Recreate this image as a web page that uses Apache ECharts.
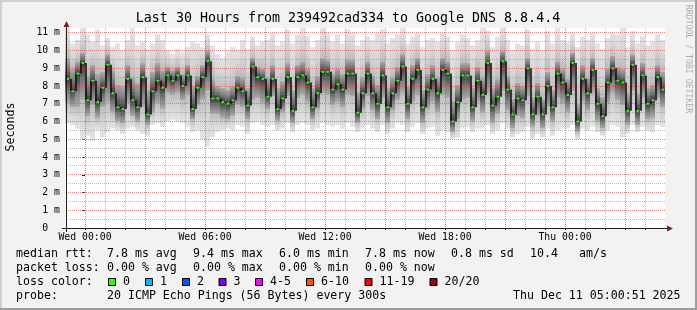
<!DOCTYPE html>
<html><head><meta charset="utf-8">
<script src="https://cdn.jsdelivr.net/npm/echarts@6/dist/echarts.min.js"></script>
<style>html,body{margin:0;padding:0;background:#f2f2f2}#c{width:697px;height:310px}</style>
</head><body><div id="c"></div><script>
// ---- data (hours relative to Wed 00:00; one slot = 15 min) ----
const startHour = -1, endHour = 29, slotHours = 0.25;
const medianMs = [
 8.4,7.7,8.7,9.3,7.2,8.3,7.1,7.9,9.2,7.6,6.8,6.7,8.4,7.2,6.8,8.5,6.4,7.7,8.3,7.9,
 8.6,8.3,8.6,8.0,8.6,6.7,7.9,8.5,9.4,7.3,7.3,7.1,7.0,7.2,7.9,7.7,6.9,9.1,8.5,8.4,
 7.4,8.4,6.7,7.3,8.5,6.6,8.5,8.6,8.2,6.8,7.6,8.8,8.8,7.8,8.1,7.8,8.7,8.7,6.5,7.6,
 8.7,7.6,7.0,8.6,6.8,7.6,8.3,9.1,7.0,8.4,8.9,6.8,7.8,8.4,7.6,8.9,8.7,6.0,7.1,8.6,
 8.6,6.8,8.3,7.5,9.3,6.9,7.4,9.4,7.8,6.4,7.3,7.2,9.0,6.4,7.4,6.4,8.0,6.8,8.7,8.2,
 7.5,9.3,6.0,8.4,7.6,8.9,7.0,6.3,8.2,9.0,8.3,8.2,6.6,9.2,6.6,8.6,7.0,7.2,8.5,7.8];
const lowMs = [
 5.9,5.8,5.6,5.0,5.2,4.9,5.5,5.1,5.4,5.6,5.5,5.3,5.6,5.7,5.5,5.3,5.2,5.8,5.9,5.7,
 6.0,6.1,6.0,5.9,5.7,5.4,5.5,5.0,4.6,5.1,5.4,5.5,5.6,5.5,5.8,5.7,5.3,5.9,6.0,5.8,
 5.7,5.8,5.5,5.6,5.9,5.4,5.8,5.9,5.8,5.5,5.6,5.9,5.8,5.7,5.8,5.6,5.9,5.7,5.4,5.6,
 5.8,5.6,5.4,5.8,5.3,5.6,5.9,5.8,5.4,5.7,5.9,5.3,5.6,5.7,5.2,5.5,5.4,5.0,5.1,5.6,
 5.7,5.4,5.6,5.6,5.8,5.3,5.5,5.9,5.6,5.1,5.3,5.4,5.7,5.0,5.3,5.1,5.6,5.2,5.5,5.6,
 5.6,5.8,5.0,5.6,5.5,5.7,5.4,5.2,5.5,5.8,5.7,5.1,5.3,5.8,5.4,5.7,5.5,5.4,5.8,5.7];
const q1Ms = [
 7.0,6.8,6.8,7.2,6.3,6.9,6.2,6.8,7.1,6.5,6.0,5.9,7.0,6.3,6.0,6.8,5.8,6.5,7.0,6.7,
 7.6,7.5,7.6,7.2,7.5,6.1,6.9,7.2,7.7,6.4,6.4,6.2,6.1,6.3,6.9,6.8,6.1,7.2,7.3,7.0,
 6.7,7.4,6.0,6.5,7.4,5.9,7.3,7.5,7.1,6.1,6.7,7.6,7.5,6.9,7.1,6.8,7.5,7.4,5.9,6.7,
 7.4,6.6,6.1,7.3,5.9,6.6,7.2,7.6,6.1,7.1,7.5,5.9,6.7,7.1,6.5,7.5,7.3,5.4,6.1,7.2,
 7.3,6.0,7.1,6.5,7.6,5.9,6.4,7.7,6.6,5.6,6.3,6.2,7.4,5.7,6.3,5.6,6.8,6.0,7.3,7.0,
 6.5,7.7,5.4,7.1,6.6,7.6,6.0,5.6,7.0,7.6,7.2,6.9,5.8,7.7,5.8,7.3,6.1,6.2,7.3,6.8];
const q3Ms = [
 9.6,9.0,9.4,9.9,8.6,9.2,8.7,8.8,9.8,8.9,8.1,8.0,9.2,8.5,8.2,9.3,7.8,8.8,9.3,8.9,
 9.1,8.9,9.1,8.7,9.2,8.0,8.6,9.2,10.0,8.4,8.0,7.9,7.8,8.0,8.6,8.5,7.9,9.6,9.1,9.0,
 8.5,9.2,7.9,8.3,9.3,7.8,9.2,9.4,9.0,7.9,8.6,9.6,9.5,8.7,9.0,8.7,9.5,9.5,7.7,8.5,
 9.4,8.6,8.1,9.4,7.9,8.5,9.1,9.8,8.0,9.2,9.6,7.8,8.7,9.2,8.5,9.6,9.4,7.2,8.1,9.3,
 9.3,7.9,9.1,8.5,10.0,7.9,8.4,10.0,8.6,7.3,8.2,8.0,9.6,7.4,8.2,7.3,8.8,7.8,9.4,9.0,
 8.4,9.9,7.0,9.2,8.5,9.6,7.9,7.4,9.0,9.7,9.1,9.0,7.6,9.8,7.6,9.3,7.9,8.1,9.2,8.8];
const highMs = [
 11.3,10.4,10.6,11.3,10.9,10.5,11.2,10.3,10.7,10.2,10.4,10.0,10.6,11.3,10.3,10.5,10.1,10.4,10.9,10.6,
 10.0,9.8,10.1,9.9,10.2,10.5,10.4,10.2,10.9,10.3,9.8,9.6,9.9,10.2,10.0,10.6,10.1,10.8,10.3,10.5,
 10.6,11.0,10.3,10.5,11.2,10.4,10.9,11.3,10.8,10.2,10.6,11.3,11.0,10.5,10.9,10.4,11.2,11.0,10.3,10.6,
 10.8,10.6,11.0,11.2,10.4,10.7,10.9,11.3,10.4,10.8,11.0,10.2,10.6,10.7,10.5,11.0,10.8,10.0,10.5,10.9,
 10.7,10.3,10.6,11.3,11.1,10.2,10.8,11.3,10.6,10.0,10.4,10.3,11.2,10.1,10.5,10.0,11.1,10.4,11.3,10.6,
 10.5,11.0,10.2,10.8,10.6,11.0,10.4,10.1,10.7,11.0,10.9,11.3,10.2,11.1,10.4,10.8,10.3,10.5,10.9,10.6];
const yMajorTicks = [1,2,3,4,5,6,7,8,9,10,11];
const yMinorTicks = [0.5,1.5,2.5,3.5,4.5,5.5,6.5,7.5,8.5,9.5,10.5];
const xMajorTicks = [0,3,6,9,12,15,18,21,24,27];
const xMinorTicks = [1,2,4,5,7,8,10,11,13,14,16,17,19,20,22,23,25,26,28];
const xLabelHours = [0,6,12,18,24];
const lossLabels = ['0','1','2','3','4-5','6-10','11-19','20/20'];
const lossColors = ['#26ff00','#00b8ff','#0059ff','#7e00ff','#ff00ff','#ff5500','#ff0000','#a10000'];
const lossBoxX = [108.5,145.5,182.5,219,255.5,306.5,365,430];
const legendLines = [
 [[16,'median rtt:'],[107,'7.8 ms avg'],[193,'9.4 ms max'],[279,'6.0 ms min'],[365,'7.8 ms now'],[451,'0.8 ms sd'],[530,'10.4'],[579,'am/s']],
 [[16,'packet loss:'],[107,'0.00 % avg'],[193,'0.00 % max'],[279,'0.00 % min'],[365,'0.00 % now']],
 [[16,'loss color:']],
 [[16,'probe:'],[107,'20 ICMP Echo Pings (56 Bytes) every 300s'],[513,'Thu Dec 11 05:00:51 2025']]
];
const legendY = [254,268,282,296];

// ---- build ----
const MONO = '"DejaVu Sans Mono", monospace';
const smokeData = medianMs.map((m,i)=>{
  const t0 = startHour + i*slotHours;
  return [t0, t0+slotHours, lowMs[i], q1Ms[i], m, q3Ms[i], highMs[i]];
});
const medData = medianMs.map((m,i)=>{
  const t0 = startHour + i*slotHours;
  return [t0, t0+slotHours, m, i>0?medianMs[i-1]:m];
});
const LG = echarts.graphic.LinearGradient;
function grad3(c0,c1,c2){return new LG(0,0,0,1,[{offset:0,color:c0},{offset:0.5,color:c1},{offset:1,color:c2}]);}

function renderSmoke(params, api){
  const t0=api.value(0), t1=api.value(1);
  const lo=api.value(2), q1=api.value(3), md=api.value(4), q3=api.value(5), hi=api.value(6);
  const x0=api.coord([t0,lo])[0], x1=api.coord([t1,lo])[0];
  const w=x1-x0;
  const yLo=api.coord([t0,lo])[1], yQ1=api.coord([t0,q1])[1], yMd=api.coord([t0,md])[1],
        yQ3=api.coord([t0,q3])[1], yHi=api.coord([t0,hi])[1];
  return {type:'group', children:[
    {type:'rect', shape:{x:x0,y:yQ1,width:w,height:yLo-yQ1}, style:{fill:grad3('#bcbcbc','#d6d6d6','#e4e4e4')}},
    {type:'rect', shape:{x:x0,y:yHi,width:w,height:yQ3-yHi}, style:{fill:grad3('#e4e4e4','#d6d6d6','#bcbcbc')}},
    {type:'rect', shape:{x:x0,y:yQ3,width:w,height:yMd-yQ3}, style:{fill:grad3('#acacac','#7c7c7c','#3a3a3a')}},
    {type:'rect', shape:{x:x0,y:yMd,width:w,height:yQ1-yMd}, style:{fill:grad3('#3a3a3a','#7c7c7c','#acacac')}}
  ]};
}
function renderMedian(params, api){
  const t0=api.value(0), md=api.value(2), pv=api.value(3);
  const p=api.coord([t0,md]), q=api.coord([t0,pv]);
  const xs=p[0]+1;
  return {type:'group', children:[
    {type:'line', shape:{x1:xs,y1:q[1],x2:xs,y2:p[1]}, style:{stroke:'#111',lineWidth:1.6}},
    {type:'rect', shape:{x:p[0]+1.5,y:p[1]-1,width:2.5,height:2}, style:{fill:'#26ff00'}}
  ]};
}
// grid rows are [hour, ms]; dotted lines built as rows of 1px rects for crisp dots
function hLine(color){
  return function(params, api){
    const cs=params.coordSys;
    const y=Math.floor(api.coord([api.value(0), api.value(1)])[1]);
    const kids=[];
    for(let x=Math.floor(cs.x)+1; x<cs.x+cs.width; x+=2) kids.push({type:'rect', shape:{x:x,y:y,width:1,height:1}, style:{fill:color}});
    return {type:'group', children:kids};
  };
}
function vLine(color){
  return function(params, api){
    const cs=params.coordSys;
    const x=Math.floor(api.coord([api.value(0), api.value(1)])[0]);
    const kids=[];
    for(let y=Math.floor(cs.y); y<cs.y+cs.height; y+=2) kids.push({type:'rect', shape:{x:x,y:y,width:1,height:1}, style:{fill:color}});
    return {type:'group', children:kids};
  };
}
const GRID_MINOR='rgba(143,143,143,0.6)', GRID_MAJOR='rgba(222,79,79,0.7)';
const gridSeries = (fn, color, rows)=>({type:'custom', coordinateSystem:'cartesian2d', z:3, silent:true,
  encode:{x:0, y:1}, dimensions:['h','ms'], renderItem:fn(color), data:rows});

const graphics = [];
graphics.push({type:'rect', shape:{x:0,y:0,width:697,height:2}, style:{fill:'#cfcfcf'}, silent:true});
graphics.push({type:'rect', shape:{x:0,y:0,width:2,height:310}, style:{fill:'#cfcfcf'}, silent:true});
graphics.push({type:'rect', shape:{x:695,y:0,width:2,height:310}, style:{fill:'#9e9e9e'}, silent:true});
graphics.push({type:'rect', shape:{x:0,y:308,width:697,height:2}, style:{fill:'#9e9e9e'}, silent:true});
graphics.push({type:'text', x:348, y:19, style:{text:'Last 30 Hours from 239492cad334 to Google DNS 8.8.4.4',
  font:'13.3px '+MONO, fill:'#000', align:'center', verticalAlign:'middle'}});
graphics.push({type:'text', x:11, y:127, rotation:Math.PI/2, style:{text:'Seconds',
  font:'11.6px '+MONO, fill:'#000', align:'center', verticalAlign:'middle'}});
graphics.push({type:'text', x:688, y:59, rotation:-Math.PI/2, style:{text:'RRDTOOL / TOBI OETIKER',
  font:'8.2px '+MONO, fill:'rgba(0,0,0,0.3)', align:'center', verticalAlign:'middle'}});
graphics.push({type:'line', z:10, shape:{x1:62,y1:228.5,x2:668,y2:228.5}, style:{stroke:'#1f1f1f',lineWidth:1}});
graphics.push({type:'line', z:10, shape:{x1:66.5,y1:232,x2:66.5,y2:25}, style:{stroke:'#1f1f1f',lineWidth:1}});
graphics.push({type:'polygon', z:10, shape:{points:[[667,225.5],[673,228.5],[667,231.5]]}, style:{fill:'#801f1f'}});
graphics.push({type:'polygon', z:10, shape:{points:[[63.5,27],[66.5,21],[69.5,27]]}, style:{fill:'#801f1f'}});
legendLines.forEach((line,li)=>line.forEach(([x,t])=>{
  graphics.push({type:'text', x:x, y:legendY[li], style:{text:t, font:'11.6px '+MONO, fill:'#000', verticalAlign:'middle'}});
}));
lossLabels.forEach((lab,i)=>{
  graphics.push({type:'rect', shape:{x:lossBoxX[i],y:278.5,width:7,height:7}, style:{fill:lossColors[i],stroke:'#000',lineWidth:1}});
  graphics.push({type:'text', x:lossBoxX[i]+14.5, y:legendY[2], style:{text:lab, font:'11.6px '+MONO, fill:'#000', verticalAlign:'middle'}});
});

const chart = echarts.init(document.getElementById('c'), null, {renderer:'canvas'});
chart.setOption({
  backgroundColor:'#f2f2f2',
  animation:false,
  grid:{left:65, top:28, width:600, height:200, show:true, backgroundColor:'#ffffff', borderWidth:0},
  xAxis:{type:'value', min:startHour, max:endHour, interval:1,
    splitLine:{show:false}, axisLine:{show:false},
    axisTick:{show:true, length:2, lineStyle:{color:'#1f1f1f'}},
    axisLabel:{margin:4, color:'#000', fontFamily:'DejaVu Sans Mono', fontSize:9.8,
      showMinLabel:false, showMaxLabel:false,
      formatter:v=>{ if(!xLabelHours.includes(v)) return ''; const d=v<24?'Wed':'Thu'; return d+' '+String(v%24).padStart(2,'0')+':00'; }}},
  yAxis:{type:'value', min:0, max:11.27, interval:1,
    splitLine:{show:false}, axisLine:{show:false},
    axisTick:{show:true, length:3, lineStyle:{color:'#1f1f1f'}},
    axisLabel:{margin:5, color:'#000', fontFamily:'DejaVu Sans Mono', fontSize:9.8, showMaxLabel:false,
      formatter:v=> v===0 ? '0  ' : (Number.isInteger(v) ? v+' m' : '')}},
  series:[
    {type:'custom', coordinateSystem:'cartesian2d', z:2, clip:true, renderItem:renderSmoke, data:smokeData, silent:true},
    gridSeries(hLine, GRID_MINOR, yMinorTicks.map(v=>[startHour, v])),
    gridSeries(vLine, GRID_MINOR, xMinorTicks.map(h=>[h, 0])),
    gridSeries(hLine, GRID_MAJOR, yMajorTicks.map(v=>[startHour, v])),
    gridSeries(vLine, GRID_MAJOR, xMajorTicks.map(h=>[h, 0])),
    {type:'custom', coordinateSystem:'cartesian2d', z:4, clip:true, renderItem:renderMedian, data:medData, silent:true}
  ],
  graphic:graphics
});
</script></body></html>
